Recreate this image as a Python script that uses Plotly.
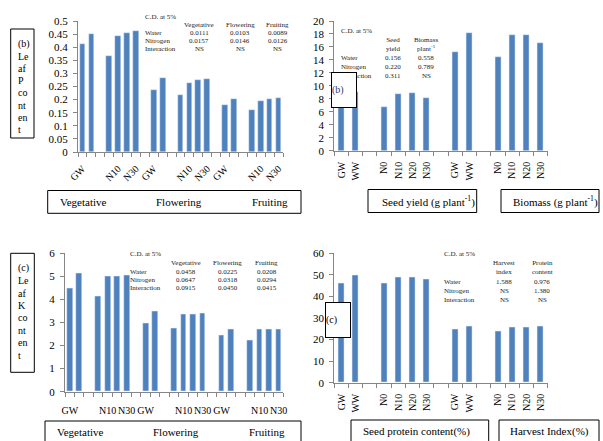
import plotly.graph_objects as go

W, H = 603, 441
FONT = "Liberation Serif"
BAR = "#4F81BD"
AX = "#868686"

# ---------------- data ----------------
stages = ["Vegetative", "Flowering", "Fruiting"]
water_levels = ["GW", "WW"]
nitrogen_levels = ["N0", "N10", "N20", "N30"]

# Leaf P content (b, left)
leafP_water = {"Vegetative": [0.413, 0.452], "Flowering": [0.236, 0.282], "Fruiting": [0.178, 0.202]}
leafP_nitrogen = {"Vegetative": [0.367, 0.444, 0.455, 0.460], "Flowering": [0.217, 0.263, 0.275, 0.278],
                  "Fruiting": [0.160, 0.194, 0.201, 0.205]}
# Leaf K content (c, left)
leafK_water = {"Vegetative": [4.50, 5.15], "Flowering": [2.98, 3.50], "Fruiting": [2.45, 2.72]}
leafK_nitrogen = {"Vegetative": [4.15, 5.02, 5.02, 5.05], "Flowering": [2.75, 3.37, 3.37, 3.41],
                  "Fruiting": [2.22, 2.72, 2.72, 2.72]}
# Seed yield / biomass (b, right)
seed_yield_water = [7.3, 9.0]
seed_yield_nitrogen = [6.7, 8.7, 8.85, 8.1]
biomass_water = [15.2, 18.1]
biomass_nitrogen = [14.4, 17.8, 17.8, 16.6]
# Seed protein / harvest index (c, right)
protein_water = [46.1, 49.9]
protein_nitrogen = [46.3, 49.0, 49.0, 48.1]
harvest_water = [24.8, 26.2]
harvest_nitrogen = [23.9, 25.7, 25.7, 26.2]

cd_left_cols = ["Vegetative", "Flowering", "Fruiting"]
cd_rows = ["Water", "Nitrogen", "Interaction"]
cd_P = [["0.0111", "0.0103", "0.0089"], ["0.0157", "0.0146", "0.0126"], ["NS", "NS", "NS"]]
cd_K = [["0.0458", "0.0225", "0.0208"], ["0.0647", "0.0318", "0.0294"], ["0.0915", "0.0450", "0.0415"]]
cd_yield_cols = ["Seed<br>yield", "Biomass<br>plant<sup>-1</sup>"]
cd_yield = [["0.156", "0.558"], ["0.220", "0.789"], ["0.311", "NS"]]
cd_hi_cols = ["Harvest<br>index", "Protein<br>content"]
cd_hi = [["1.588", "0.976"], ["NS", "1.380"], ["NS", "NS"]]


def build(groups_w, groups_n):
    labels, vals = [], []
    for gi, (w, n) in enumerate(zip(groups_w, groups_n)):
        if gi > 0:
            labels.append("")
            vals.append(None)
        labels += water_levels + [""] + nitrogen_levels
        vals += list(w) + [None] + list(n)
    return labels, vals


def px(x):
    return x / W


def py(y):
    return 1 - y / H


fig = go.Figure()

panels = [
    dict(ax="", w=[leafP_water[s] for s in stages], n=[leafP_nitrogen[s] for s in stages],
         xd=(78, 283), yd=(21, 152), yr=[0, 0.5], dt=0.05, ang=-45, skip=True, bw=0.64, stand=6),
    dict(ax="2", w=[seed_yield_water, biomass_water], n=[seed_yield_nitrogen, biomass_nitrogen],
         xd=(334.3, 547.7), yd=(21, 150.7), yr=[0, 20], dt=2, ang=-90, skip=False, bw=0.42, stand=6),
    dict(ax="3", w=[leafK_water[s] for s in stages], n=[leafK_nitrogen[s] for s in stages],
         xd=(65, 283.3), yd=(253.3, 391.7), yr=[0, 6], dt=1, ang=0, skip=True, bw=0.6, stand=9),
    dict(ax="4", w=[protein_water, harvest_water], n=[protein_nitrogen, harvest_nitrogen],
         xd=(334.3, 547.7), yd=(253.3, 382.7), yr=[0, 60], dt=10, ang=-90, skip=False, bw=0.42, stand=6),
]

for p in panels:
    labels, vals = build(p["w"], p["n"])
    xs = list(range(len(labels)))
    fig.add_trace(go.Bar(x=xs, y=vals, marker_color=BAR, width=p["bw"],
                         xaxis="x" + p["ax"], yaxis="y" + p["ax"], showlegend=False,
                         hoverinfo="skip"))
    if p["skip"]:
        tv = [i for i in xs if i % 2 == 0 and labels[i]]
    else:
        tv = [i for i in xs if labels[i]]
    tt = [labels[i] for i in tv]
    xa = dict(domain=[px(p["xd"][0]), px(p["xd"][1])], range=[-0.5, len(labels) - 0.5],
              anchor="y" + p["ax"], tickmode="array", tickvals=tv, ticktext=tt,
              ticks="", tickangle=p["ang"], showline=True, linecolor=AX, linewidth=1,
              showgrid=False, zeroline=False, ticklabelstandoff=p["stand"], automargin=False,
              tickfont=dict(family=FONT, size=10, color="black"),
              minor=dict(tickmode="array", tickvals=[i - 0.5 for i in range(len(labels) + 1)],
                         ticks="outside", ticklen=4, tickcolor=AX, tickwidth=1, showgrid=False))
    ya = dict(domain=[py(p["yd"][1]), py(p["yd"][0])], range=p["yr"], anchor="x" + p["ax"],
              tickmode="linear", tick0=0, dtick=p["dt"], ticks="outside", ticklen=4,
              tickcolor=AX, showline=True, linecolor=AX, linewidth=1, showgrid=False,
              zeroline=False, ticklabelstandoff=3, automargin=False,
              tickfont=dict(family=FONT, size=11, color="black"))
    fig.layout["xaxis" + p["ax"]] = xa
    fig.layout["yaxis" + p["ax"]] = ya

ann = []
shapes = []


def text(x, y, s, size=7, anchor="left", color="#222"):
    ann.append(dict(x=px(x), y=py(y), xref="paper", yref="paper", text=s, showarrow=False,
                    xanchor=anchor, yanchor="middle", align="center",
                    font=dict(family=FONT, size=size, color=color)))


def box(x0, y0, x1, y1):
    shapes.append(dict(type="rect", xref="paper", yref="paper", x0=px(x0), x1=px(x1),
                       y0=py(y1), y1=py(y0), line=dict(color="black", width=1),
                       fillcolor="rgba(0,0,0,0)"))


def cd_table(x_lab, y_title, hdr_x, hdr_y, rows_y, cols, data):
    text(x_lab, y_title, "C.D. at 5%")
    for cx, c in zip(hdr_x, cols):
        text(cx, hdr_y, c, anchor="center")
    for ry, rname, row in zip(rows_y, cd_rows, data):
        text(x_lab, ry, rname)
        for cx, v in zip(hdr_x, row):
            text(cx, ry, v, anchor="center")


cd_table(142.7, 16.7, [199, 240, 277.7], 25, [32.7, 41, 49.3], cd_left_cols, cd_P)
cd_table(128.3, 254.3, [186, 227.7, 266.7], 263.3, [271.7, 280, 288.3], cd_left_cols, cd_K)
cd_table(339.3, 31, [392.7, 426], 44.5, [57.7, 67, 76.3], cd_yield_cols, cd_yield)
cd_table(441.7, 254.3, [504, 542.3], 267.8, [281.7, 291, 300.3], cd_hi_cols, cd_hi)

# Left y-label boxes
box(10.7, 29, 34, 138)
for i, s in enumerate(["(b)", "Le", "af", "P", "co", "nt", "en", "t"]):
    text(16, 44 + 12.2 * i, s, size=10, color="black")
box(10.7, 253.3, 34.3, 372.3)
for i, s in enumerate(["(c)", "Le", "af", "K", "co", "nt", "en", "t"]):
    text(16, 268.3 + 12.4 * i, s, size=10, color="black")

# Bottom category boxes - top row
box(47.7, 190.5, 301, 213.3)
text(58.3, 201.5, "Vegetative", size=11, color="black")
text(154, 201.5, "Flowering", size=11, color="black")
text(250, 201.5, "Fruiting", size=11, color="black")
box(368, 189.5, 476.7, 212.5)
text(380, 201, "Seed yield (g plant<sup>-1</sup>)", size=11, color="black")
box(501, 189.5, 599, 212.5)
text(511, 201, "Biomass (g plant<sup>-1</sup>)", size=11, color="black")

# Bottom row
box(45, 421, 301, 446)
text(55, 432.3, "Vegetative", size=11, color="black")
text(151, 432.3, "Flowering", size=11, color="black")
text(247.3, 432.3, "Fruiting", size=11, color="black")
box(351, 420, 488.7, 446)
text(361, 431.5, "Seed protein content(%)", size=11, color="black")
box(499, 420, 599, 446)
text(508.3, 431.5, "Harvest Index(%)", size=11, color="black")

# Panel tag boxes (white filled, covering bars / text)
for (x0, y0, x1, y1, s, col) in [(330.7, 72.3, 356.7, 108.3, "(b)", "#1F3A6E"),
                                  (325, 301.7, 351, 337.3, "(c)", "black")]:
    ann.append(dict(x=px(x0), y=py((y0 + y1) / 2), xref="paper", yref="paper", text=s,
                    showarrow=False, xanchor="left", yanchor="middle", align="left",
                    width=x1 - x0 - 2, height=y1 - y0 - 2, borderpad=0, borderwidth=1,
                    bordercolor="black", bgcolor="white",
                    font=dict(family=FONT, size=10, color=col)))

fig.update_layout(width=W, height=H, margin=dict(l=0, r=0, t=0, b=0, autoexpand=False),
                  autosize=False, paper_bgcolor="white", plot_bgcolor="white",
                  annotations=ann, shapes=shapes, bargap=0)
fig.write_html("out.html", config={"displayModeBar": False},
               post_script="document.documentElement.style.margin='0';"
                           "document.body.style.margin='0';document.body.style.overflow='hidden';")
